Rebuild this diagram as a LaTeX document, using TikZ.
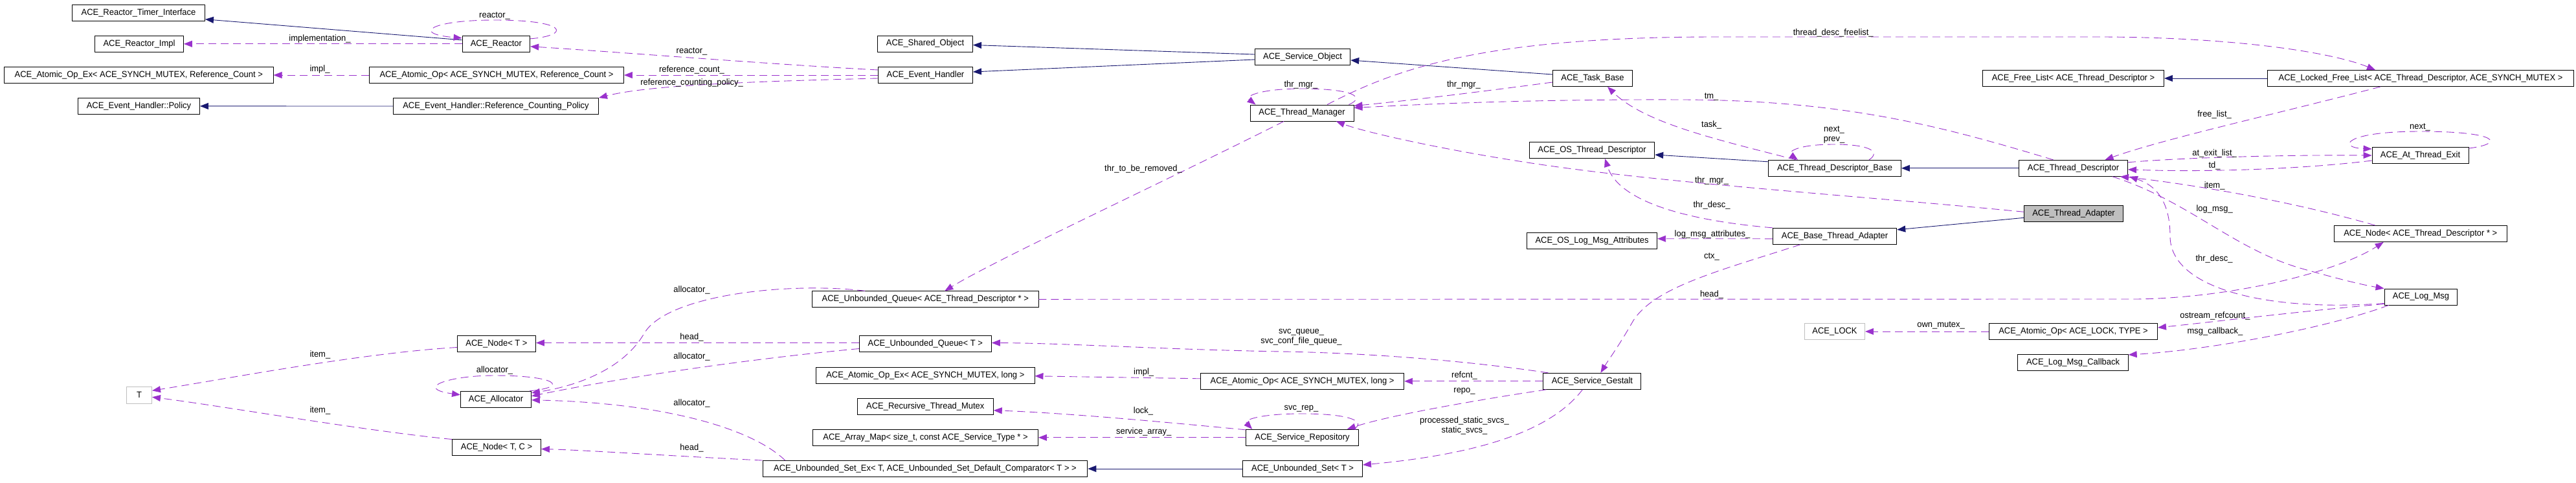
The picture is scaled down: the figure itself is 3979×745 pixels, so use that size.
\documentclass[tikz,border=0pt]{standalone}
\usepackage{fontspec}
\setmainfont{Liberation Sans}[FakeStretch=0.96]
\usetikzlibrary{arrows.meta,calc}
\definecolor{navyc}{HTML}{191970}
\definecolor{purp}{HTML}{9A32CD}
\definecolor{grayb}{HTML}{BFBFBF}
\begin{document}
\begin{tikzpicture}[x=1pt,y=-1pt,
  every node/.style={font=\fontsize{13.5}{15}\selectfont},
  box/.style={draw=black, line width=0.9pt, minimum height=25pt, inner sep=0pt, fill=white},
  gbox/.style={box, draw=grayb},
  sbox/.style={box, fill=grayb},
  inh/.style={draw=navyc, line width=0.9pt, -{Triangle[length=13pt,width=10pt]}},
  use/.style={draw=purp, line width=0.9pt, dash pattern=on 12pt off 7pt, -{Triangle[length=13pt,width=10pt]}},
  lab/.style={inner sep=0pt, align=center}
]
\useasboundingbox (0,0) rectangle (3979,745);
% ---------------- nodes
\node[box, minimum width=205] (timer) at (214,19.8) {ACE\_Reactor\_Timer\_Interface};
\node[box, minimum width=137] (rimpl) at (215,67.8) {ACE\_Reactor\_Impl};
\node[box, minimum width=415.5] (aopexrc) at (214.3,116) {ACE\_Atomic\_Op\_Ex< ACE\_SYNCH\_MUTEX, Reference\_Count >};
\node[box, minimum width=188] (policy) at (214.5,163.9) {ACE\_Event\_Handler::Policy};
\node[box, minimum width=104.7] (reactor) at (766.4,67.8) {ACE\_Reactor};
\node[box, minimum width=393] (aoprc) at (767,116) {ACE\_Atomic\_Op< ACE\_SYNCH\_MUTEX, Reference\_Count >};
\node[box, minimum width=317] (rcpolicy) at (766,164) {ACE\_Event\_Handler::Reference\_Counting\_Policy};
\node[box, minimum width=147] (shared) at (1429,67.5) {ACE\_Shared\_Object};
\node[box, minimum width=146] (evh) at (1429.5,116) {ACE\_Event\_Handler};
\node[box, minimum width=147.5] (svcobj) at (2012,88) {ACE\_Service\_Object};
\node[box, minimum width=160] (thrmgr) at (2011,174.5) {ACE\_Thread\_Manager};
\node[box, minimum width=123.5] (task) at (2460,121) {ACE\_Task\_Base};
\node[box, minimum width=193.5] (ostd) at (2459,232) {ACE\_OS\_Thread\_Descriptor};
\node[box, minimum width=201.4] (oslma) at (2459,371.7) {ACE\_OS\_Log\_Msg\_Attributes};
\node[box, minimum width=280] (freelist) at (3202.5,121) {ACE\_Free\_List< ACE\_Thread\_Descriptor >};
\node[box, minimum width=205] (tdbase) at (2834,259.8) {ACE\_Thread\_Descriptor\_Base};
\node[box, minimum width=168] (td) at (3202.5,259.8) {ACE\_Thread\_Descriptor};
\node[sbox, minimum width=152.7] (tadapter) at (3203,330.3) {ACE\_Thread\_Adapter};
\node[box, minimum width=191.5] (bta) at (2834,364.8) {ACE\_Base\_Thread\_Adapter};
\node[box, minimum width=473] (lfl) at (3739,121) {ACE\_Locked\_Free\_List< ACE\_Thread\_Descriptor, ACE\_SYNCH\_MUTEX >};
\node[box, minimum width=149] (ate) at (3738.5,240) {ACE\_At\_Thread\_Exit};
\node[box, minimum width=267.5] (nodetd) at (3738.7,361) {ACE\_Node< ACE\_Thread\_Descriptor * >};
\node[box, minimum width=112.7] (logmsg) at (3739.4,458.5) {ACE\_Log\_Msg};
\node[gbox, minimum width=93] (lock) at (2834,512) {ACE\_LOCK};
\node[box, minimum width=260] (aoplock) at (3202.5,512) {ACE\_Atomic\_Op< ACE\_LOCK, TYPE >};
\node[box, minimum width=170.4] (cb) at (3202,560) {ACE\_Log\_Msg\_Callback};
\node[box, minimum width=151] (gestalt) at (2459.4,588.8) {ACE\_Service\_Gestalt};
\node[box, minimum width=173.8] (repo) at (2011.5,675.8) {ACE\_Service\_Repository};
\node[box, minimum width=185] (uset) at (2012,724) {ACE\_Unbounded\_Set< T >};
\node[box, minimum width=314.4] (aoplong) at (2011.5,588.8) {ACE\_Atomic\_Op< ACE\_SYNCH\_MUTEX, long >};
\node[box, minimum width=349.4] (uqtd) at (1429.3,462.3) {ACE\_Unbounded\_Queue< ACE\_Thread\_Descriptor * >};
\node[box, minimum width=204] (uqt) at (1429.3,530.5) {ACE\_Unbounded\_Queue< T >};
\node[box, minimum width=337.4] (aopexlong) at (1429.3,579.8) {ACE\_Atomic\_Op\_Ex< ACE\_SYNCH\_MUTEX, long >};
\node[box, minimum width=210] (rtm) at (1429.3,627.8) {ACE\_Recursive\_Thread\_Mutex};
\node[box, minimum width=348] (amap) at (1429.5,675.8) {ACE\_Array\_Map< size\_t, const ACE\_Service\_Type * >};
\node[box, minimum width=501.7] (usetex) at (1429,724) {ACE\_Unbounded\_Set\_Ex< T, ACE\_Unbounded\_Set\_Default\_Comparator< T > >};
\node[box, minimum width=121] (nodet) at (767,530.5) {ACE\_Node< T >};
\node[box, minimum width=109] (alloc) at (766,616.8) {ACE\_Allocator};
\node[box, minimum width=137] (nodetc) at (767,690.5) {ACE\_Node< T, C >};
\node[gbox, minimum width=39, minimum height=26] (T) at (215,610.3) {T};
% ---------------- inheritance
\draw[inh] ($(reactor.west)+(0,-6)$) -- ($(timer.east)+(0,10)$);
\draw[inh] (rcpolicy.west) -- (policy.east);
\draw[inh] ($(svcobj.west)+(0,-4)$) -- ($(shared.east)+(0,2)$);
\draw[inh] ($(svcobj.west)+(0,4)$) -- ($(evh.east)+(0,-5)$);
\draw[inh] ($(task.west)+(0,-6)$) -- ($(svcobj.east)+(0,5)$);
\draw[inh] ($(tdbase.west)+(0,-10)$) -- ($(ostd.east)+(0,7)$);
\draw[inh] (td.west) -- (tdbase.east);
\draw[inh] ($(tadapter.west)+(0,6)$) -- ($(bta.east)+(0,-10)$);
\draw[inh] (lfl.west) -- (freelist.east);
\draw[inh] (uset.west) -- (usetex.east);
% ---------------- usage
\draw[use] (reactor.west) -- (rimpl.east);
\draw[use] ($(reactor.north east)+(0,5)$) .. controls (880,55) and (880,31) .. (764,31) .. controls (665,31) and (635,52) .. ($(reactor.north west)+(0,4)$);
\draw[use] (aoprc.west) -- (aopexrc.east);
\draw[use] ($(evh.west)+(0,-8)$) .. controls (1200,100) and (950,80) .. ($(reactor.east)+(0,4)$);
\draw[use] (evh.west) -- (aoprc.east);
\draw[use] ($(evh.west)+(0,5)$) .. controls (1150,126) and (1000,132) .. (rcpolicy.north east);
\draw[use] ($(thrmgr.north east)+(-8,0)$) .. controls (2110,150) and (2090,137) .. (2010,137) .. controls (1950,137) and (1922,148) .. ($(thrmgr.north west)+(9,0)$);
\draw[use] ($(task.west)+(0,6)$) .. controls (2300,140) and (2180,155) .. ($(thrmgr.east)+(0,-11)$);
\draw[use] ($(td.north)+(-31,0)$) .. controls (3000,195) and (2850,155) .. (2600,154) .. controls (2350,153) and (2180,162) .. ($(thrmgr.east)+(0,-8)$);
\draw[use] ($(thrmgr.north)+(39,0)$) .. controls (2150,110) and (2280,57) .. (2650,57) -- (3250,57) .. controls (3450,58) and (3600,80) .. ($(lfl.north)+(-70,0)$);
\draw[use] ($(tdbase.north)+(-60,0)$) .. controls (2650,215) and (2540,190) .. ($(task.south)+(23,0)$);
\draw[use] ($(tdbase.north)+(53,0)$) .. controls (2905,235) and (2890,223) .. (2833,223) .. controls (2775,223) and (2760,235) .. ($(tdbase.north)+(-57,0)$);
\draw[use] ($(tadapter.west)+(0,-3)$) .. controls (2900,305) and (2600,285) .. (2400,257) .. controls (2250,236) and (2110,205) .. ($(thrmgr.south)+(53,0)$);
\draw[use] (bta.north west) .. controls (2600,340) and (2500,310) .. ($(ostd.south)+(20,0)$);
\draw[use] ($(bta.west)+(0,4)$) -- ($(oslma.east)+(0,-3)$);
\draw[use] ($(bta.south)+(-53,0)$) .. controls (2650,420) and (2550,445) .. (2520,500) .. controls (2500,535) and (2485,555) .. ($(gestalt.north)+(13,0)$);
\draw[use] ($(thrmgr.south)+(-28,0)$) .. controls (1800,280) and (1540,400) .. ($(uqtd.north)+(30,0)$);
\draw[use] ($(lfl.south)+(-62,0)$) .. controls (3520,175) and (3340,215) .. ($(td.north)+(49,0)$);
\draw[use] ($(td.east)+(0,-9)$) .. controls (3350,245) and (3500,239) .. (ate.west);
\draw[use] ($(ate.west)+(0,8)$) .. controls (3550,262) and (3400,266) .. ($(td.east)+(0,2)$);
\draw[use] ($(ate.north east)+(0,2)$) .. controls (3870,222) and (3860,203) .. (3738,203) .. controls (3620,203) and (3610,228) .. ($(ate.north west)+(0,3)$);
\draw[use] ($(nodetd.north)+(-70,0)$) .. controls (3520,305) and (3350,280) .. ($(td.south east)+(-12,0)$);
\draw[use] ($(logmsg.west)+(0,10)$) .. controls (3500,482) and (3352,445) .. (3352,365) .. controls (3352,300) and (3320,283) .. ($(td.south east)+(2,0)$);
\draw[use] ($(td.south east)+(-24,0)$) .. controls (3380,310) and (3450,385) .. (3556,415) .. controls (3620,433) and (3650,440) .. (logmsg.north west);
\draw[use] (uqtd.east) -- (3300,462) .. controls (3450,460) and (3610,420) .. ($(nodetd.south)+(-57,0)$);
\draw[use] ($(uqtd.north west)+(82,0)$) .. controls (1220,435) and (1030,455) .. (995,515) .. controls (960,575) and (880,598) .. ($(alloc.north east)+(0,3)$);
\draw[use] ($(uqt.west)+(0,-1)$) -- ($(nodet.east)+(0,-1)$);
\draw[use] ($(uqt.west)+(0,8)$) .. controls (1150,555) and (950,585) .. ($(alloc.east)+(0,-5)$);
\draw[use] ($(alloc.north east)+(-3,0)$) .. controls (880,598) and (860,580) .. (764,580) .. controls (690,580) and (640,600) .. ($(alloc.west)+(0,-7)$);
\draw[use] ($(nodet.west)+(0,6)$) .. controls (560,545) and (350,585) .. ($(T.east)+(0,-7)$);
\draw[use] ($(nodetc.west)+(0,-12)$) .. controls (560,665) and (350,628) .. ($(T.east)+(0,3)$);
\draw[use] ($(usetex.north west)+(35,0)$) .. controls (1160,660) and (1020,622) .. ($(alloc.east)+(0,1)$);
\draw[use] (usetex.north west) .. controls (1050,705) and (900,695) .. ($(nodetc.east)+(0,3)$);
\draw[use] ($(gestalt.north west)+(8,0)$) .. controls (2250,555) and (2100,545) .. (1980,543) .. controls (1800,540) and (1650,530) .. ($(uqt.east)+(0,-1)$);
\draw[use] ($(aoplong.west)+(0,-4)$) -- ($(aopexlong.east)+(0,1)$);
\draw[use] (gestalt.west) -- (aoplong.east);
\draw[use] ($(repo.north west)+(0,1)$) .. controls (1800,652) and (1650,638) .. ($(rtm.east)+(0,6)$);
\draw[use] (repo.west) -- (amap.east);
\draw[use] ($(repo.north east)+(-8,0)$) .. controls (2110,652) and (2090,639) .. (2010,639) .. controls (1950,639) and (1920,648) .. ($(repo.north west)+(10,0)$);
\draw[use] ($(gestalt.south west)+(5,0)$) .. controls (2300,615) and (2150,640) .. ($(repo.north east)+(-18,0)$);
\draw[use] ($(gestalt.south)+(-15,0)$) .. controls (2400,660) and (2300,700) .. ($(uset.east)+(0,-6)$);
\draw[use] ($(logmsg.west)+(0,11)$) .. controls (3560,480) and (3420,497) .. ($(aoplock.east)+(0,-6)$);
\draw[use] ($(logmsg.south west)+(7,0)$) .. controls (3600,505) and (3420,540) .. ($(cb.east)+(0,-12)$);
\draw[use] (aoplock.west) -- (lock.east);
% ---------------- labels
\node[lab] (l1) at (494,60) {implementation\_};
\node[lab] (l2) at (764,24) {reactor\_};
\node[lab] (l3) at (494,107) {impl\_};
\node[lab] (l4) at (1068.5,79) {reactor\_};
\node[lab] (l5) at (1068.5,107.7) {reference\_count\_};
\node[lab] (l6) at (1068.5,127.7) {reference\_counting\_policy\_};
\node[lab] (l7) at (2009.5,130.7) {thr\_mgr\_};
\node[lab] (l8) at (2261,130.7) {thr\_mgr\_};
\node[lab] (l9) at (2643.6,149) {tm\_};
\node[lab] (l10) at (2831.7,50.7) {thread\_desc\_freelist\_};
\node[lab] (l11) at (2643.6,192.7) {task\_};
\node[lab] (l12) at (2833,208.5) {next\_\\prev\_};
\node[lab] (l13) at (2644,279.3) {thr\_mgr\_};
\node[lab] (l14) at (2644,316.7) {thr\_desc\_};
\node[lab] (l15) at (2645,362) {log\_msg\_attributes\_};
\node[lab] (l16) at (2644,396.7) {ctx\_};
\node[lab] (l17) at (1766,260.7) {thr\_to\_be\_removed\_};
\node[lab] (l18) at (3420.6,176.7) {free\_list\_};
\node[lab] (l19) at (3420.6,236.7) {at\_exit\_list\_};
\node[lab] (l20) at (3420.6,255.7) {td\_};
\node[lab] (l21) at (3738,196) {next\_};
\node[lab] (l22) at (3420.6,286.7) {item\_};
\node[lab] (l23) at (3420,399.7) {thr\_desc\_};
\node[lab] (l24) at (3420.6,323.3) {log\_msg\_};
\node[lab] (l25) at (2644,455) {head\_};
\node[lab] (l26) at (1068.5,447.7) {allocator\_};
\node[lab] (l27) at (1068.5,520.7) {head\_};
\node[lab] (l28) at (1068.5,550.7) {allocator\_};
\node[lab] (l29) at (764,571.7) {allocator\_};
\node[lab] (l30) at (494.4,547.7) {item\_};
\node[lab] (l31) at (494.4,634.3) {item\_};
\node[lab] (l32) at (1068.5,622.7) {allocator\_};
\node[lab] (l33) at (1068.5,691.7) {head\_};
\node[lab] (l34) at (2010,520.5) {svc\_queue\_\\svc\_conf\_file\_queue\_};
\node[lab] (l35) at (1766.7,575) {impl\_};
\node[lab] (l36) at (2262,580) {refcnt\_};
\node[lab] (l37) at (1766,635) {lock\_};
\node[lab] (l38) at (1766.7,666.7) {service\_array\_};
\node[lab] (l39) at (2010,631) {svc\_rep\_};
\node[lab] (l40) at (2262,604) {repo\_};
\node[lab] (l41) at (2262,657.8) {processed\_static\_svcs\_\\static\_svcs\_};
\node[lab] (l42) at (3421.4,487.7) {ostream\_refcount\_};
\node[lab] (l43) at (3421.4,512.3) {msg\_callback\_};
\node[lab] (l44) at (2998,502.7) {own\_mutex\_};
\end{tikzpicture}
\end{document}
